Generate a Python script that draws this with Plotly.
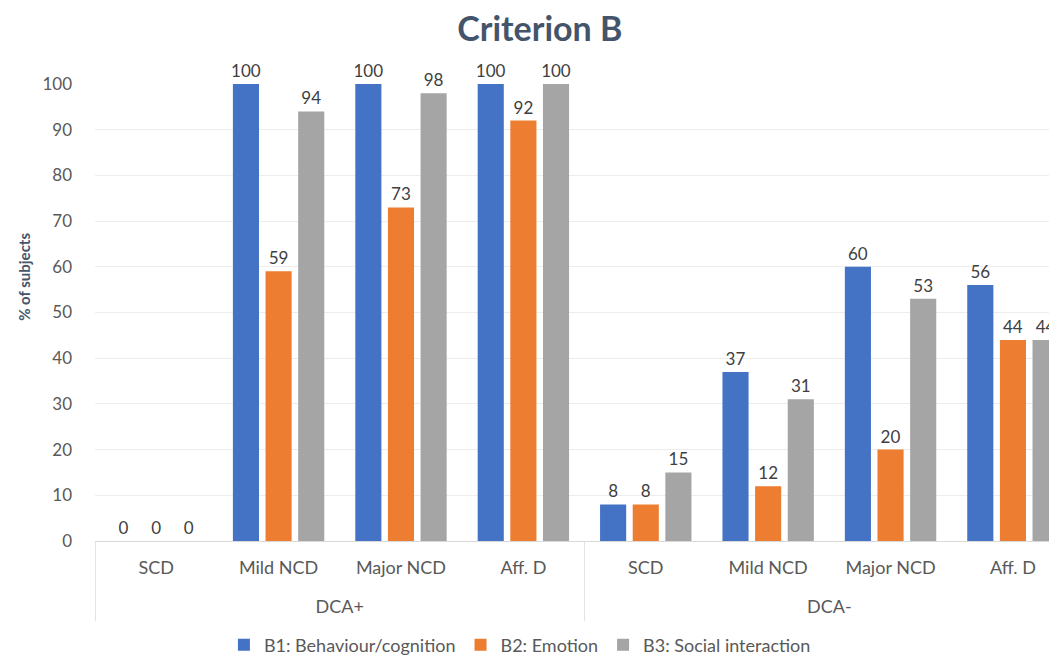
import plotly.graph_objects as go

groups = ["DCA+", "DCA-"]
subcats = ["SCD", "Mild NCD", "Major NCD", "Aff. D"] * 2
b1 = [0, 100, 100, 100, 8, 37, 60, 56]
b2 = [0, 59, 73, 92, 8, 12, 20, 44]
b3 = [0, 94, 98, 100, 15, 31, 53, 44]
series_names = ["B1: Behaviour/cognition", "B2: Emotion", "B3: Social interaction"]
colors = ["#4472C4", "#ED7D31", "#A5A5A5"]
yticks = list(range(0, 101, 10))

font_family = "Lato, 'Open Sans', sans-serif"

n = len(subcats)
per_group = n // len(groups)
xpos = list(range(n))
group_centers = [g * per_group + (per_group - 1) / 2 for g in range(len(groups))]
group_bounds = [g * per_group - 0.5 for g in range(len(groups) + 1)]
# the reference picture is cropped on the right, cutting into the last category
x_range = [-0.5, n - 0.64]

fig = go.Figure()
for name, vals, col in zip(series_names, [b1, b2, b3], colors):
    fig.add_trace(go.Bar(
        x=xpos, y=vals, name=name,
        marker=dict(color=col, line=dict(width=0)),
        text=[str(v) for v in vals], textposition="outside", constraintext="none",
        textfont=dict(size=17, color="#404040", family=font_family),
        cliponaxis=False,
    ))

# invisible helper trace so the group-level axis (x2) is rendered
fig.add_trace(go.Scatter(
    x=group_centers, y=[0] * len(group_centers), xaxis="x2", yaxis="y",
    mode="markers", marker=dict(opacity=0), hoverinfo="skip", showlegend=False,
))

fig.update_layout(
    width=1049, height=647,
    paper_bgcolor="white", plot_bgcolor="white",
    margin=dict(l=87, r=0, t=76, b=114, autoexpand=False),
    title=dict(text="<b>Criterion B</b>", x=0.507, xanchor="center", y=0.9675, yanchor="middle",
               font=dict(size=34, color="#44546A", family=font_family)),
    barmode="group", bargap=0.2, bargroupgap=0.2,
    font=dict(family=font_family, color="#595959", size=17),
    legend=dict(orientation="h", x=0.134, xanchor="left", y=-0.2276, yanchor="middle",
                font=dict(size=18, color="#595959"), traceorder="normal", itemwidth=30),
    showlegend=True,
    annotations=[dict(text="<b>% of subjects</b>", textangle=-90, xref="paper", yref="paper",
                      x=-0.0738, y=0.578, xanchor="center", yanchor="middle", showarrow=False,
                      font=dict(size=15, color="#44546A", family=font_family))],
    xaxis=dict(range=x_range, tickmode="array", tickvals=xpos, ticktext=subcats,
               showline=True, linecolor="#D9D9D9", linewidth=1, ticks="", showgrid=False,
               zeroline=False, automargin=False, ticklabelstandoff=10,
               tickfont=dict(size=18, color="#595959")),
    xaxis2=dict(overlaying="x", anchor="y", side="bottom", range=x_range,
                tickmode="array", tickvals=group_centers, ticktext=groups, ticks="",
                showline=False, showgrid=False, zeroline=False, automargin=False,
                ticklabelstandoff=53, tickfont=dict(size=18, color="#595959"),
                minor=dict(tickmode="array", tickvals=group_bounds, ticks="outside",
                           ticklen=79, tickwidth=1, tickcolor="#E3E3E3", showgrid=False)),
    yaxis=dict(range=[0, 100], tickvals=yticks, showgrid=True, gridcolor="#EDEDED",
               zeroline=False, ticks="", ticklabelstandoff=22, automargin=False,
               tickfont=dict(size=17, color="#595959")),
)

fig.write_html("out.html")
